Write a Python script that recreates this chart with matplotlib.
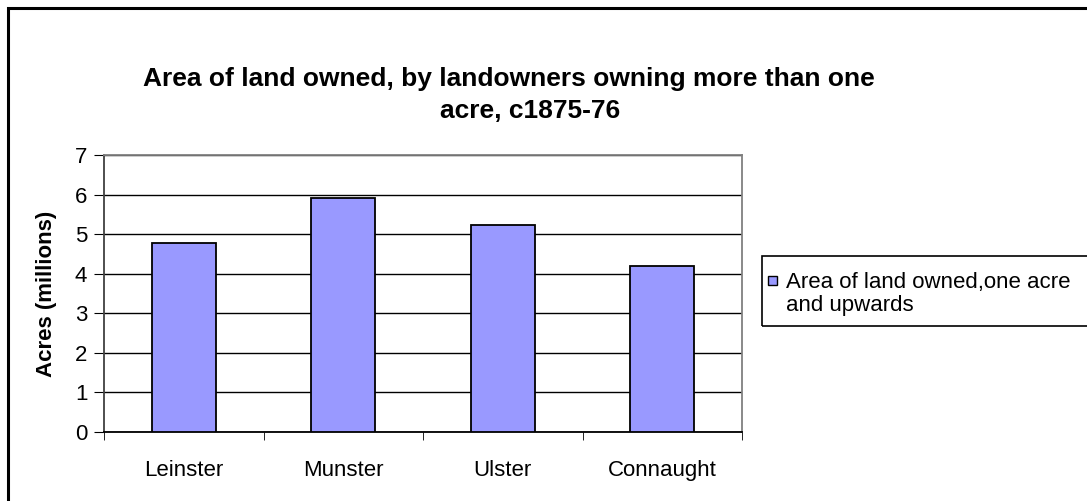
import numpy as np
import matplotlib
matplotlib.use("Agg")
import matplotlib.pyplot as plt
from matplotlib.patches import Rectangle

regions = ["Leinster", "Munster", "Ulster", "Connaught"]
acres_millions = [4.78, 5.92, 5.24, 4.20]
y_ticks = [0, 1, 2, 3, 4, 5, 6, 7]
series_label = "Area of land owned,one acre\nand upwards"
title_line1 = "Area of land owned, by landowners owning more than one"
title_line2 = "acre, c1875-76"
y_label = "Acres (millions)"

plt.rcParams["font.family"] = ["Liberation Sans", "DejaVu Sans"]

W, H = 1087, 501
fig = plt.figure(figsize=(W / 100, H / 100), dpi=100)


def px(x, y):
    # pixel position (from top-left) -> figure fraction
    return x / W, 1 - y / H


# chart area border, runs off the right and bottom edges
fig.patches.append(Rectangle(px(8, H + 20), 1.2, (H + 12) / H, transform=fig.transFigure,
                             fill=False, edgecolor="black", linewidth=2.2))

left, top = px(104, 155)
right, bottom = px(742, 432)
ax = fig.add_axes([left, bottom, right - left, top - bottom])

x = np.arange(len(regions))
bars = ax.bar(x, acres_millions, width=0.4, color="#9999FF", edgecolor="black",
              linewidth=1.3, zorder=3)

ax.set_xlim(-0.5, len(regions) - 0.5)
ax.set_ylim(0, 7)
ax.set_yticks(y_ticks)
ax.yaxis.grid(True, color="black", linewidth=1, zorder=0)

ax.set_xticks(x)
ax.set_xticklabels(regions, fontsize=16)
ax.set_xticks(np.arange(-0.5, len(regions), 1), minor=True)
ax.tick_params(axis="x", which="major", length=0, pad=20)
ax.tick_params(axis="x", which="minor", length=6, direction="out", color="black")
ax.tick_params(axis="y", length=7, direction="out", pad=5, labelsize=16, color="black")

for side in ("top", "right"):
    ax.spines[side].set_color("#808080")
    ax.spines[side].set_linewidth(1.3)
ax.spines["left"].set_color("#404040")
ax.spines["bottom"].set_color("black")
ax.spines["left"].set_linewidth(1.3)
ax.spines["bottom"].set_linewidth(1.3)

ax.set_ylabel(y_label, fontsize=16, fontweight="bold", labelpad=13)

# two-line title, as wrapped by the spreadsheet
fig.text(*px(509, 86), title_line1, ha="center", va="baseline", fontsize=19, fontweight="bold")
fig.text(*px(530, 118), title_line2, ha="center", va="baseline", fontsize=19, fontweight="bold")

# legend box, also clipped at the right edge
lx, ly = px(762, 326)
fig.patches.append(Rectangle((lx, ly), 0.4, 70 / H, transform=fig.transFigure,
                             fill=False, edgecolor="black", linewidth=1.2))
mx, my = px(768, 285)
fig.patches.append(Rectangle((mx, my), 9 / W, 9 / H, transform=fig.transFigure,
                             facecolor=bars.patches[0].get_facecolor(),
                             edgecolor="black", linewidth=1))
fig.text(*px(786, 311), series_label, ha="left", va="baseline", fontsize=16,
         linespacing=1.15)

fig.savefig("out.png", dpi=100)
